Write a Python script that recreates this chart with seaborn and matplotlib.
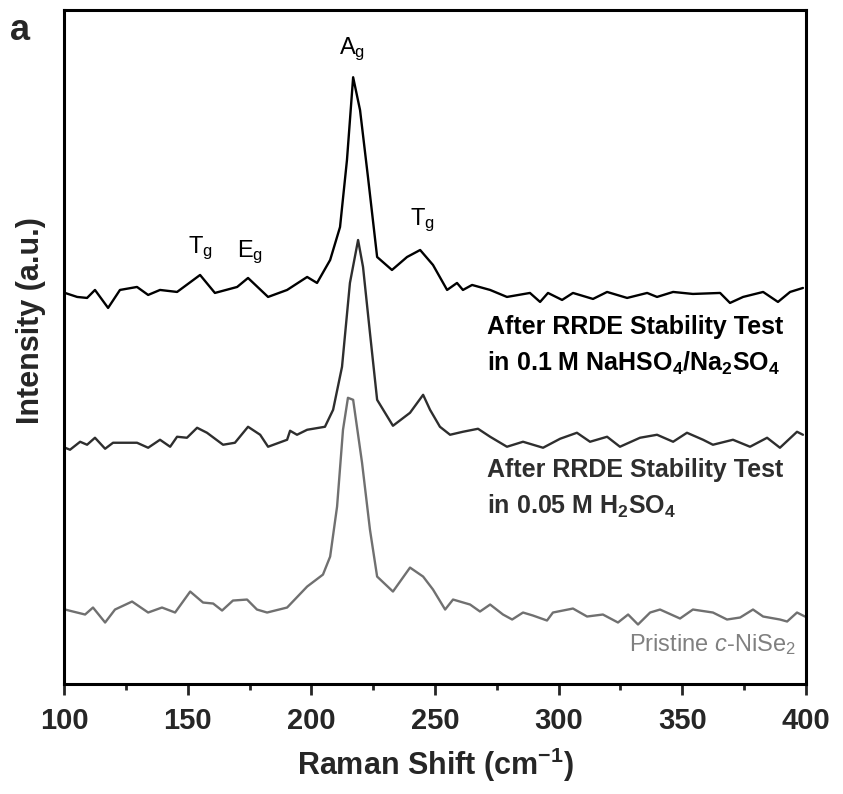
import numpy as np
import pandas as pd
import matplotlib
matplotlib.use("Agg")
import matplotlib.pyplot as plt
import seaborn as sns

# Raman shift (cm-1) and intensity (a.u., already stacked)
nahso4_shift = [100.4, 105.3, 109.3, 112.5, 117.8, 122.6, 129.5, 134, 138.8, 145.7, 155, 161, 170, 174.4,
                182.5, 190.2, 198.3, 202.3, 207.6, 211.6, 214.4, 216.9, 219.7, 222.9, 226.6, 232.6, 238.7,
                244, 249.2, 254.9, 258.9, 261.3, 265, 272.3, 279.1, 288.4, 292.5, 295.7, 301.4, 305.8,
                313.9, 319.6, 327.7, 335.8, 339.8, 346.3, 354.3, 365.3, 369.3, 374.6, 382.7, 388.7,
                393.6, 398.8]
nahso4_int = [392, 388, 387, 395, 377, 395, 398, 390, 395, 393, 410, 392, 398, 407,
              388, 395, 408, 402, 425, 458, 525, 608, 575, 508, 428, 415, 428,
              435, 420, 395, 402, 395, 400, 395, 388, 392, 383, 392, 385, 392,
              386, 393, 387, 392, 388, 393, 391, 392, 382, 388, 393, 383,
              393, 397]

h2so4_shift = [100.4, 102.4, 106.5, 109.3, 112.5, 116.6, 119.8, 129.5, 134, 138.8, 142.9, 145.7, 149.7,
               153.8, 157.8, 164.3, 169.1, 174.4, 179.3, 182.5, 190.2, 191.4, 194.2, 198.3, 205.5,
               208.8, 212.4, 215.6, 218.9, 220.9, 223.7, 226.6, 233, 239.9, 245.2, 248, 252, 256.1,
               261.3, 267.4, 272.3, 279.1, 285.6, 293.7, 300.6, 307.4, 312.7, 319.6, 324.8, 332.9,
               339.8, 346.3, 351.9, 358.4, 362.4, 370.5, 377.4, 384.3, 389.5, 396.4, 398.8]
h2so4_int = [237, 235, 243, 240, 247, 236, 242, 242, 237, 245, 238, 248, 247,
             257, 252, 240, 242, 258, 250, 238, 245, 254, 250, 255, 258,
             275, 318, 402, 445, 418, 352, 285, 259, 272, 290, 275, 258, 250,
             253, 256, 248, 238, 243, 237, 246, 252, 243, 248, 238, 247,
             250, 243, 252, 245, 240, 245, 238, 247, 237, 253, 250]

pristine_shift = [100.4, 103.6, 108.5, 111.7, 116.6, 120.6, 127.5, 134, 139.6, 144.9, 151, 156.2, 160.3,
                  163.9, 168.3, 174, 178, 182.1, 190.2, 198.3, 204.7, 207.6, 210.4, 212.8, 214.8, 216.9,
                  220.5, 223.7, 226.6, 233, 239.9, 245.2, 249.2, 254.1, 257.3, 264.2, 268.2, 272.3,
                  277.5, 281.2, 285.6, 289.6, 295.3, 297.7, 305.8, 311.5, 317.9, 324, 328.1, 332.1, 337,
                  341, 349.1, 354.3, 362.4, 368.1, 373.4, 378.6, 382.7, 389.5, 392.4, 396.4, 399.6]
pristine_int = [75, 73, 70, 77, 62, 75, 83, 72, 77, 72, 93, 82, 81,
                74, 84, 85, 75, 72, 77, 98, 110, 128, 178, 255, 287, 285,
                222, 155, 108, 93, 117, 108, 95, 75, 85, 80, 73, 80,
                70, 65, 72, 69, 64, 72, 76, 68, 70, 62, 70, 60, 72,
                75, 66, 75, 72, 65, 67, 75, 68, 65, 63, 72, 68]

x_ticks = [100, 150, 200, 250, 300, 350, 400]

sns.set_theme(style="ticks")
plt.rcParams["font.family"] = ["Liberation Sans", "DejaVu Sans"]
plt.rcParams["mathtext.fontset"] = "custom"
plt.rcParams["mathtext.rm"] = "Liberation Sans:bold"
plt.rcParams["mathtext.sf"] = "Liberation Sans"
plt.rcParams["mathtext.it"] = "Liberation Sans:italic"
plt.rcParams["mathtext.default"] = "rm"

fig = plt.figure(figsize=(8.43, 7.94), dpi=100)
ax = fig.add_axes([0.076, 0.138, 0.880, 0.849])

sns.lineplot(x=nahso4_shift, y=nahso4_int, ax=ax, color="black", linewidth=1.7)
sns.lineplot(x=h2so4_shift, y=h2so4_int, ax=ax, color="#2e2e2e", linewidth=1.7)
sns.lineplot(x=pristine_shift, y=pristine_int, ax=ax, color="#707070", linewidth=1.7)

ax.set_xlim(100, 400)
ax.set_ylim(0, 675)
ax.set_xticks(x_ticks)
ax.set_xticks(np.arange(125, 400, 50), minor=True)
ax.set_yticks([])
ax.tick_params(axis="x", which="major", length=8, width=2, labelsize=21, pad=8, direction="out")
ax.tick_params(axis="x", which="minor", length=4, width=2, direction="out")
for lbl in ax.get_xticklabels():
    lbl.set_fontweight("bold")
for s in ax.spines.values():
    s.set_linewidth(2.2)
    s.set_color("black")

ax.set_xlabel(r"Raman Shift (cm$^{-1}$)", fontsize=22, fontweight="bold", labelpad=8)
ax.set_ylabel("Intensity (a.u.)", fontsize=22, fontweight="bold")
ax.yaxis.set_label_coords(-0.024, 0.54)

# peak labels
peak_kw = dict(fontsize=17, ha="center", va="baseline", color="black", family="Liberation Sans")
ax.text(216.5, 631, r"A$\mathsf{_g}$", **peak_kw)
ax.text(155, 432, r"T$\mathsf{_g}$", **peak_kw)
ax.text(175.2, 428, r"E$\mathsf{_g}$", **peak_kw)
ax.text(244.8, 460, r"T$\mathsf{_g}$", **peak_kw)

# sample labels
lab_kw = dict(fontsize=18, fontweight="bold", ha="left", va="center")
ax.text(0.570, (685 - 327) / 675, "After RRDE Stability Test", transform=ax.transAxes, color="black", **lab_kw)
ax.text(0.570, (685 - 364) / 675, r"in 0.1 M NaHSO$_4$/Na$_2$SO$_4$", transform=ax.transAxes, color="black", **lab_kw)
ax.text(0.570, (685 - 470) / 675, "After RRDE Stability Test", transform=ax.transAxes, color="#2e2e2e", **lab_kw)
ax.text(0.570, (685 - 507) / 675, r"in 0.05 M H$_2$SO$_4$", transform=ax.transAxes, color="#2e2e2e", **lab_kw)
ax.text(0.987, (685 - 645) / 675, r"Pristine $\mathit{c}$-NiSe$\mathsf{_2}$", transform=ax.transAxes,
        color="#808080", fontsize=17, ha="right", va="center")

fig.text(0.012, 0.962, "a", fontsize=26, fontweight="bold", ha="left", va="center")

fig.savefig("out.png", dpi=100)
